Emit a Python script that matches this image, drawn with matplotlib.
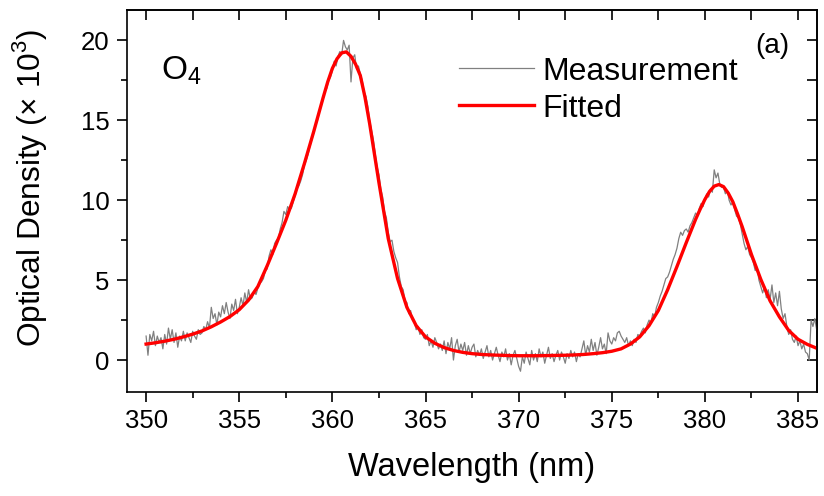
import matplotlib
matplotlib.use("Agg")
import matplotlib.pyplot as plt
import numpy as np
from matplotlib.ticker import MultipleLocator

plt.rcParams["font.family"] = ["Liberation Sans", "DejaVu Sans"]
plt.rcParams["mathtext.fontset"] = "custom"
plt.rcParams["mathtext.rm"] = "Liberation Sans"

# fitted O4 curve (wavelength in nm, optical density x 1e3); denser near the peaks
fit_wl = [
    350.0, 350.5, 351.0, 351.5, 352.0, 352.5, 353.0, 353.5, 354.0, 354.5,
    355.0, 355.5, 356.0, 356.5, 357.0, 357.5, 358.0, 358.5, 359.0, 359.5,
    359.75, 360.0, 360.25, 360.5, 360.75, 361.0, 361.25, 361.5, 361.75, 362.0,
    362.5, 363.0, 363.5, 364.0, 364.5, 365.0, 365.5, 366.0, 366.5, 367.0,
    367.5, 368.0, 368.5, 369.0, 369.5, 370.0, 370.5, 371.0, 371.5, 372.0,
    372.5, 373.0, 373.5, 374.0, 374.5, 375.0, 375.5, 376.0, 376.5, 377.0,
    377.5, 378.0, 378.5, 379.0, 379.5, 379.75, 380.0, 380.25, 380.5, 380.75,
    381.0, 381.25, 381.5, 381.75, 382.0, 382.5, 383.0, 383.5, 384.0, 384.5,
    385.0, 385.5, 386.0, 386.5,
]
fit_od = [
    1.00, 1.08, 1.18, 1.30, 1.45, 1.62, 1.82, 2.08, 2.38, 2.72,
    3.15, 3.75, 4.60, 5.90, 7.30, 8.75, 10.40, 12.30, 14.30, 16.40,
    17.40, 18.25, 18.85, 19.22, 19.28, 19.00, 18.50, 17.80, 16.45, 14.80,
    11.10, 7.60, 5.10, 3.30, 2.15, 1.45, 1.05, 0.78, 0.60, 0.48,
    0.40, 0.35, 0.32, 0.30, 0.28, 0.27, 0.27, 0.27, 0.28, 0.29,
    0.30, 0.32, 0.35, 0.40, 0.46, 0.55, 0.70, 1.00, 1.45, 2.15,
    3.10, 4.40, 5.85, 7.35, 8.80, 9.45, 10.05, 10.55, 10.88, 10.98,
    10.85, 10.45, 9.90, 9.15, 8.35, 6.60, 5.05, 3.70, 2.70, 1.85,
    1.30, 0.98, 0.74, 0.56,
]

# measured optical density, every 0.1 nm from 350.0 nm (one row per nm)
MEAS_START, MEAS_STEP = 350.0, 0.1
measured = [
    1.5, 0.3, 1.6, 1.2, 1.8, 0.9, 1.5, 1.1, 1.4, 0.7,
    1.6, 1.0, 2.0, 1.3, 1.9, 1.1, 1.7, 0.8, 1.5, 1.2,
    1.8, 1.2, 1.7, 1.4, 1.1, 1.8, 1.5, 1.3, 1.9, 1.6,
    1.7, 2.1, 1.9, 2.4, 2.0, 3.3, 2.6, 2.9, 2.2, 3.0,
    2.7, 3.4, 2.9, 3.6, 3.0, 2.6, 3.5, 3.1, 3.8, 2.9,
    3.3, 3.9, 3.4, 4.2, 3.6, 4.4, 3.8, 3.9, 4.3, 4.1,
    4.5, 4.8, 4.9, 5.1, 5.6, 5.7, 6.5, 6.9, 6.6, 7.3,
    7.5, 7.6, 8.2, 8.6, 9.3, 9.1, 9.6, 9.4, 9.5, 9.9,
    10.3, 10.7, 10.9, 11.2, 11.6, 12.2, 12.5, 12.9, 13.4, 13.8,
    14.2, 14.7, 15.0, 15.5, 15.9, 16.3, 16.8, 17.0, 17.5, 17.7,
    18.1, 18.7, 18.4, 19.0, 19.3, 19.1, 20.0, 19.6, 19.4, 19.7,
    17.4, 18.9, 19.1, 18.2, 18.4, 17.9, 17.5, 16.8, 16.5, 15.9,
    15.0, 14.4, 13.8, 12.9, 12.1, 11.6, 10.7, 10.2, 9.3, 8.9,
    8.0, 7.4, 7.5, 6.8, 6.4, 6.1, 5.2, 4.6, 4.4, 3.7,
    3.6, 2.9, 3.1, 2.5, 2.4, 1.9, 2.1, 1.6, 1.9, 1.4,
    1.3, 1.6, 0.9, 1.2, 0.8, 1.4, 1.1, 0.7, 1.0, 0.6,
    1.2, 0.4, 1.1, 0.7, 1.4, 0.0, 0.9, 1.3, 0.5, 1.0,
    0.6, 1.1, 0.3, 0.9, 0.4, 0.8, 1.0, 0.2, 0.6, 0.3,
    0.7, 0.1, 0.5, 0.9, 0.2, 0.6, 0.0, 0.4, 0.8, 0.3,
    -0.1, 0.5, 0.2, 0.7, 0.0, 0.4, -0.3, 0.3, 0.6, 0.1,
    -0.4, -0.7, 0.2, -0.2, 0.5, 0.1, -0.3, 0.6, 0.0, 0.4,
    -0.1, 0.7, 0.2, 0.5, -0.2, 0.3, 0.8, 0.1, 0.4, -0.1,
    0.3, 0.6, 0.0, 0.5, 0.2, -0.2, 0.4, 0.1, 0.6, 0.2,
    0.5, -0.1, 0.4, 0.2, 0.7, 1.2, 0.3, 0.9, 0.5, 1.3,
    0.6, 1.1, 0.3, 0.8, 1.4, 0.7, 1.0, 0.4, 1.7, 1.2,
    1.0, 1.4, 1.2, 1.7, 1.8, 1.5, 1.3, 1.1, 1.4, 0.9,
    1.2, 0.9, 1.3, 1.1, 1.6, 1.5, 1.8, 2.0, 1.7, 2.2,
    2.5, 2.3, 2.9, 2.7, 3.3, 3.6, 4.0, 4.3, 4.7, 5.1,
    5.2, 5.5, 5.9, 6.3, 6.6, 7.0, 7.6, 8.0, 7.8, 8.1,
    8.2, 8.0, 8.4, 8.6, 8.9, 9.2, 9.0, 9.5, 9.8, 9.6,
    10.1, 10.4, 10.2, 10.7, 10.5, 11.9, 11.4, 11.7, 11.0, 10.8,
    10.8, 10.4, 10.6, 10.0, 9.7, 9.9, 9.4, 9.0, 8.9, 8.5,
    7.9, 7.3, 6.9, 7.1, 6.6, 6.4, 6.1, 5.6, 5.8, 5.0,
    4.6, 4.2, 4.6, 3.9, 4.4, 3.8, 4.7, 3.6, 4.2, 3.4,
    4.3, 3.2, 2.6, 2.9, 2.1, 1.6, 1.9, 1.3, 1.1, 1.5,
    0.9, 1.2, 0.7, 1.0, 0.5, 0.4, 0.0, 2.5, 2.1, 2.6,
    1.9, 2.3, 1.8,
]

x_ticks = [350, 355, 360, 365, 370, 375, 380, 385]
y_ticks = [0, 5, 10, 15, 20]

wl_meas = MEAS_START + MEAS_STEP * np.arange(len(measured))

fig = plt.figure(figsize=(8.24, 4.96), dpi=100)
ax = fig.add_axes([0.1538, 0.2103, 0.8373, 0.7695])

ax.plot(wl_meas, measured, color="#808080", lw=0.9, label="Measurement")
ax.plot(fit_wl, fit_od, color="#ff0000", lw=2.4, label="Fitted")

ax.set_xlim(348.96, 386.0)
ax.set_ylim(-1.98, 21.9)
ax.set_xticks(x_ticks)
ax.set_yticks(y_ticks)
ax.xaxis.set_minor_locator(MultipleLocator(2.5))
ax.yaxis.set_minor_locator(MultipleLocator(2.5))
ax.tick_params(which="both", direction="out", width=1.2, labelsize=18.5, pad=5)
ax.tick_params(which="major", length=7.5)
ax.tick_params(which="minor", length=4.5)
for sp in ax.spines.values():
    sp.set_linewidth(1.2)

# mirrored inward ticks on top and right
top = ax.secondary_xaxis("top")
top.set_xticks(x_ticks)
top.xaxis.set_minor_locator(MultipleLocator(2.5))
top.tick_params(which="both", direction="in", length=7, width=1.2, labeltop=False)
right = ax.secondary_yaxis("right")
right.set_yticks(y_ticks)
right.yaxis.set_minor_locator(MultipleLocator(2.5))
right.tick_params(which="both", direction="in", length=7, width=1.2, labelright=False)
top.spines["top"].set_linewidth(1.2)
right.spines["right"].set_linewidth(1.2)

ax.set_xlabel("Wavelength (nm)", fontsize=23.5, labelpad=14)
ax.set_ylabel(r"Optical Density ($\times$ 10$^{3}$)", fontsize=22.8)
ax.yaxis.set_label_coords(-0.112, 0.535)

ax.text(0.05, 0.84, r"O$_{4}$", transform=ax.transAxes, fontsize=24,
        ha="left", va="center")
ax.text(0.935, 0.905, "(a)", transform=ax.transAxes, fontsize=20,
        ha="center", va="center")

ax.legend(loc="upper left", bbox_to_anchor=(0.482, 0.878), frameon=False,
          fontsize=23, handlelength=2.35, handletextpad=0.25,
          labelspacing=0.22, borderpad=0, borderaxespad=0)

fig.savefig("out.png", dpi=100)
